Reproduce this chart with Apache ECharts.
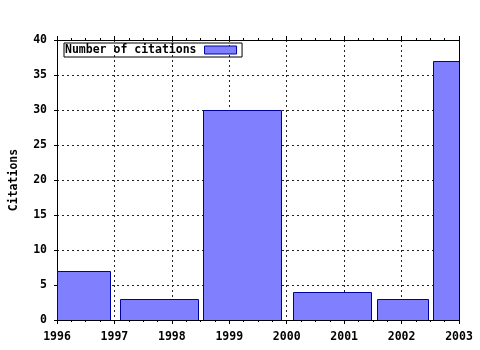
<!DOCTYPE html>
<html>
<head>
<meta charset="utf-8">
<script src="https://cdn.jsdelivr.net/npm/echarts@6/dist/echarts.min.js"></script>
<style>html,body{margin:0;padding:0;background:#fff}#c{width:480px;height:350px}</style>
</head>
<body>
<div id="c"></div>
<script>
// Data (years as fractional values on a continuous year axis)
const barStart = [1995.9, 1997.10, 1998.54, 2000.11, 2001.57, 2002.55];
const barEnd   = [1996.92, 1998.46, 1999.90, 2001.46, 2002.45, 2003.5];
const citations = [7, 3, 30, 4, 3, 37];
const xTicks = [1996, 1997, 1998, 1999, 2000, 2001, 2002, 2003];
const seriesName = 'Number of citations';
const yName = 'Citations';

const FONT = '"DejaVu Sans Mono", monospace';
const data = citations.map((v, i) => [barStart[i], barEnd[i], v]);

const chart = echarts.init(document.getElementById('c'), null, {renderer: 'canvas'});
const xBase = {
  type: 'value', min: xTicks[0], max: xTicks[xTicks.length - 1], interval: 1,
  axisLine: {show: true, onZero: false, lineStyle: {color: '#000', width: 1}},
  minorTick: {show: true, splitNumber: 4, length: 2, lineStyle: {color: '#000'}},
};
chart.setOption({
  animation: false,
  grid: {left: 57, right: 21, top: 40, bottom: 30, containLabel: false},
  legend: {
    show: true, left: 64, top: 43, align: 'right',
    data: [{name: seriesName, icon: 'rect'}],
    itemWidth: 32, itemHeight: 8,
    borderColor: '#000', borderWidth: 1, padding: [1, 5, 1, 1],
    textStyle: {fontFamily: FONT, fontWeight: 'bold', fontSize: 11.5, color: '#000', padding: [0, 3, 0, 0]},
    itemStyle: {color: '#8080ff', borderColor: '#0000a0', borderWidth: 1}
  },
  xAxis: [
    Object.assign({}, xBase, {
      position: 'bottom',
      axisTick: {show: true, length: 4, lineStyle: {color: '#000'}},
      axisLabel: {show: true, fontFamily: FONT, fontWeight: 'bold', fontSize: 11.5, color: '#000', margin: 11,
        formatter: v => String(v)},
      splitLine: {show: true, lineStyle: {color: '#222', type: [2, 3], width: 1}}
    }),
    Object.assign({}, xBase, {
      position: 'top',
      axisTick: {show: true, length: 4, lineStyle: {color: '#000'}},
      axisLabel: {show: false},
      splitLine: {show: false}
    })
  ],
  yAxis: [
    {
      type: 'value', min: 0, max: 40, interval: 5, position: 'left',
      name: yName, nameLocation: 'middle', nameGap: 37,
      nameTextStyle: {fontFamily: FONT, fontWeight: 'bold', fontSize: 11.5, color: '#000'},
      axisLine: {show: true, lineStyle: {color: '#000', width: 1}},
      axisTick: {show: true, length: 3, lineStyle: {color: '#000'}},
      axisLabel: {fontFamily: FONT, fontWeight: 'bold', fontSize: 11.5, color: '#000', margin: 10},
      splitLine: {show: true, lineStyle: {color: '#222', type: [2, 3], width: 1}}
    },
    {
      type: 'value', min: 0, max: 40, interval: 5, position: 'right',
      axisLine: {show: true, lineStyle: {color: '#000', width: 1}},
      axisTick: {show: false}, axisLabel: {show: false}, splitLine: {show: false}
    }
  ],
  series: [{
    name: seriesName,
    type: 'custom',
    clip: true,
    itemStyle: {color: '#8080ff', borderColor: '#0000a0', borderWidth: 1},
    encode: {x: [0, 1], y: 2},
    data: data,
    renderItem: function (params, api) {
      const p0 = api.coord([api.value(0), api.value(2)]);
      const p1 = api.coord([api.value(1), 0]);
      const rect = echarts.graphic.clipRectByRect(
        {x: p0[0], y: p0[1], width: p1[0] - p0[0], height: p1[1] - p0[1]},
        {x: params.coordSys.x, y: params.coordSys.y, width: params.coordSys.width, height: params.coordSys.height}
      );
      if (!rect) return null;
      return {
        type: 'rect',
        shape: {x: Math.round(rect.x) + 0.5, y: Math.round(rect.y) + 0.5, width: Math.round(rect.width), height: Math.round(rect.height)},
        style: {fill: '#8080ff', stroke: '#0000a0', lineWidth: 1}
      };
    }
  }]
});
</script>
</body>
</html>
